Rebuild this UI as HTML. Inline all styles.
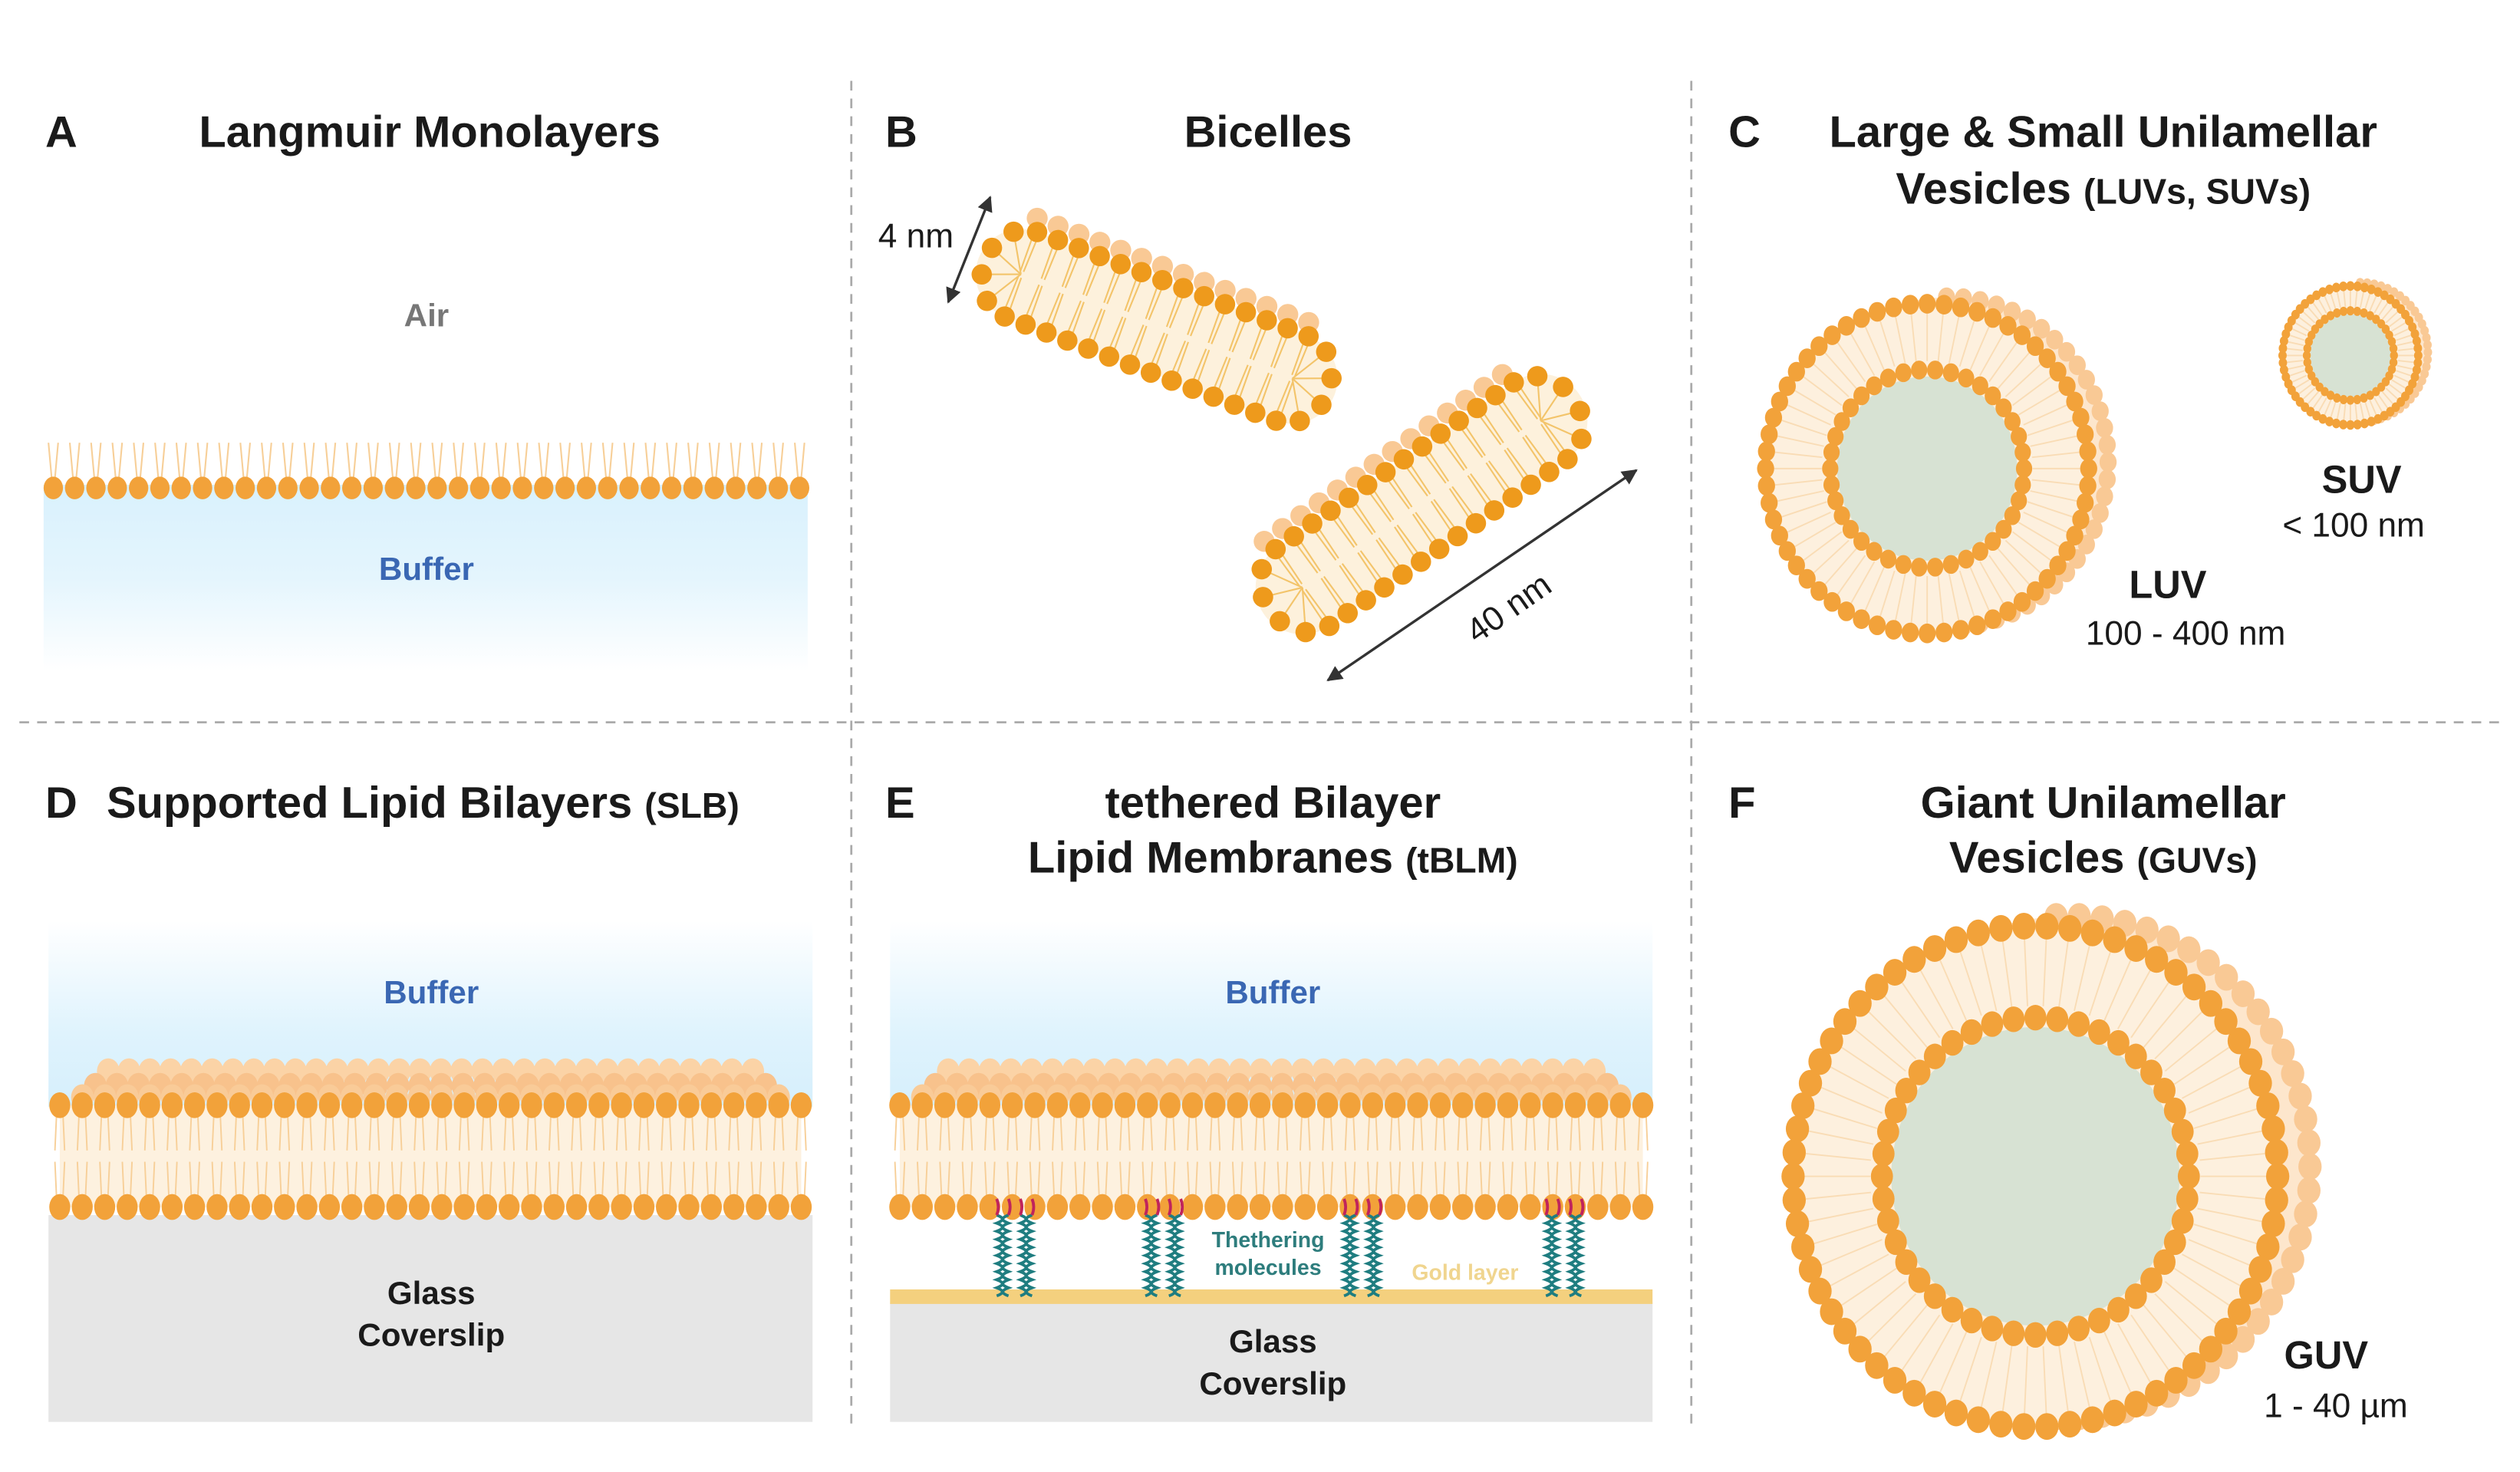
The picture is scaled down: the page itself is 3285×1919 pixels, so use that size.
<!DOCTYPE html>
<html><head><meta charset="utf-8"><style>
html,body{margin:0;padding:0;background:#fff}
svg{display:block}
text{font-family:"Liberation Sans",sans-serif}
</style></head><body>
<svg id="s" width="3285" height="1919" viewBox="0 0 1560 911" preserveAspectRatio="none" xmlns="http://www.w3.org/2000/svg">
<defs>
<linearGradient id="bufA" x1="0" y1="0" x2="0" y2="1"><stop offset="0" stop-color="#d9f1fd"/><stop offset="0.5" stop-color="#e4f5fd"/><stop offset="1" stop-color="#ffffff"/></linearGradient>
<linearGradient id="bufD" x1="0" y1="0" x2="0" y2="1"><stop offset="0" stop-color="#ffffff"/><stop offset="0.6" stop-color="#dff3fd"/><stop offset="1" stop-color="#d6effc"/></linearGradient>
<marker id="ah" viewBox="0 0 10 10" refX="9" refY="5" markerWidth="6" markerHeight="6" orient="auto-start-reverse"><path d="M0,0 L10,5 L0,10 z" fill="#333"/></marker>
</defs>
<rect width="1560" height="911" fill="#fff"/>
<g stroke="#aaa" stroke-width="1.3" stroke-dasharray="6,5" fill="none">
<line x1="527" y1="50" x2="527" y2="882"/>
<line x1="1047" y1="50" x2="1047" y2="882"/>
<line x1="12" y1="447" x2="1548" y2="447"/>
</g>
<rect x="27" y="300" width="473" height="115" fill="url(#bufA)"/>
<rect x="30" y="570" width="473" height="115" fill="url(#bufD)"/>
<rect x="30" y="752" width="473" height="128" fill="#e6e6e6"/>
<rect x="551" y="570" width="472" height="115" fill="url(#bufD)"/>
<rect x="551" y="806" width="472" height="74" fill="#e6e6e6"/>
<rect x="551" y="798" width="472" height="9" fill="#f4d07e"/>
<g id="dyn"></g>
<line x1="613" y1="122" x2="587" y2="187" stroke="#333" stroke-width="1.6" marker-start="url(#ah)" marker-end="url(#ah)"/>
<line x1="822" y1="421" x2="1013" y2="291" stroke="#333" stroke-width="1.6" marker-start="url(#ah)" marker-end="url(#ah)"/>
<g fill="#1a1a1a" font-weight="bold" font-size="27.5">
<text x="28" y="91">A</text>
<text x="266" y="91" text-anchor="middle">Langmuir Monolayers</text>
<text x="548" y="91">B</text>
<text x="785" y="91" text-anchor="middle">Bicelles</text>
<text x="1070" y="91">C</text>
<text x="1302" y="91" text-anchor="middle">Large &amp; Small Unilamellar</text>
<text x="1302" y="126" text-anchor="middle">Vesicles <tspan font-size="22">(LUVs, SUVs)</tspan></text>
<text x="28" y="506">D</text>
<text x="66" y="506">Supported Lipid Bilayers <tspan font-size="22">(SLB)</tspan></text>
<text x="548" y="506">E</text>
<text x="788" y="506" text-anchor="middle">tethered Bilayer</text>
<text x="788" y="540" text-anchor="middle">Lipid Membranes <tspan font-size="22">(tBLM)</tspan></text>
<text x="1070" y="506">F</text>
<text x="1302" y="506" text-anchor="middle">Giant Unilamellar</text>
<text x="1302" y="540" text-anchor="middle">Vesicles <tspan font-size="22">(GUVs)</tspan></text>
<text x="1342" y="370" text-anchor="middle" font-size="24">LUV</text>
<text x="1462" y="305" text-anchor="middle" font-size="24">SUV</text>
<text x="1440" y="847" text-anchor="middle" font-size="24">GUV</text>
<text x="267" y="807" text-anchor="middle" font-size="20">Glass</text>
<text x="267" y="833" text-anchor="middle" font-size="20">Coverslip</text>
<text x="788" y="837" text-anchor="middle" font-size="20">Glass</text>
<text x="788" y="863" text-anchor="middle" font-size="20">Coverslip</text>
</g>
<g fill="#1a1a1a" font-size="21">
<text x="567" y="153" text-anchor="middle">4 nm</text>
<text x="1353" y="399" text-anchor="middle">100 - 400 nm</text>
<text x="1457" y="332" text-anchor="middle">&lt; 100 nm</text>
<text x="1446" y="877" text-anchor="middle">1 - 40  µm</text>
<text transform="translate(938,382) rotate(-35)" text-anchor="middle">40 nm</text>
</g>
<text x="264" y="202" text-anchor="middle" font-size="20" font-weight="bold" fill="#777">Air</text>
<g fill="#3a67b3" font-weight="bold" font-size="20" text-anchor="middle">
<text x="264" y="359">Buffer</text>
<text x="267" y="621">Buffer</text>
<text x="788" y="621">Buffer</text>
</g>
<g fill="#2e7d7d" font-weight="bold" font-size="13.5" text-anchor="middle">
<text x="785" y="772">Thethering</text>
<text x="785" y="789">molecules</text>
</g>
<text x="907" y="792" text-anchor="middle" font-size="13.5" font-weight="bold" fill="#f0d58f">Gold layer</text>
</svg>
<script>
var NS="http://www.w3.org/2000/svg",G=document.getElementById("dyn");
var OR="#f2a23a",LT="#f9c995",TL="#f7cf98";
function el(t,a,p){var e=document.createElementNS(NS,t);for(var k in a)e.setAttribute(k,a[k]);(p||G).appendChild(e);return e;}
(function(){var n=36,x0=33,x1=495;for(var i=0;i<n;i++){var x=x0+i*(x1-x0)/(n-1);
el("path",{d:"M"+(x-3)+",274 L"+(x-1)+",296 M"+(x+3)+",274 L"+(x+1)+",296",stroke:TL,"stroke-width":1,fill:"none"});
el("ellipse",{cx:x,cy:302,rx:6,ry:7,fill:OR});}})();
function bilayer(xa,xb,tethers){var n=34;
el("rect",{x:xa,y:684,width:xb-xa,height:63,fill:"#fdf1df"});
for(var r=0;r<3;r++){var yy=[663,672,679][r],ins=[30,22,14][r];var m=n-2;
 for(var i=0;i<m;i++){var x=xa+ins+i*(xb-xa-2*ins)/(m-1);el("ellipse",{cx:x,cy:yy,rx:7,ry:8,fill:["#fbd3a6","#f8c28c","#f9cb98"][r]});}}
for(var i=0;i<n;i++){var x=xa+i*(xb-xa)/(n-1);
 el("path",{d:"M"+(x-2)+",690 L"+(x-3)+",712 M"+(x+2)+",690 L"+(x+3)+",712 M"+(x-3)+",719 L"+(x-2)+",741 M"+(x+3)+",719 L"+(x+2)+",741",stroke:TL,"stroke-width":0.9,fill:"none"});
 el("ellipse",{cx:x,cy:684,rx:6.5,ry:8,fill:OR});el("ellipse",{cx:x,cy:747,rx:6.5,ry:8,fill:OR});}
(tethers||[]).forEach(function(tx){for(var k=0;k<4;k++){var x=tx-11+k*7.3;var d="M"+x+",752";for(var y=752;y<798;y+=5){d+=" q"+((k%2?-1:1)*7)+",2.5 0,5";}
 el("path",{d:d,stroke:"#1f7d80","stroke-width":1.8,fill:"none"});
 el("path",{d:"M"+x+",742 q2,5 0,10",stroke:"#c0245c","stroke-width":1.8,fill:"none"});}});}
bilayer(37,496);bilayer(557,1017,[628,720,843,968]);
function bicelle(cx,cy,ang,L,T,n){var g=el("g",{transform:"translate("+cx+","+cy+") rotate("+ang+")"});var h=L/2;
 el("rect",{x:-h-T/2,y:-T/2,width:L+T,height:T,rx:T/2,fill:"#fdf1dc"},g);
 for(var i=0;i<n;i++){var x=-h+i*L/(n-1);el("circle",{cx:x-3,cy:-T/2-8,r:6.5,fill:LT},g);}
 for(var i=0;i<n;i++){var x=-h+i*L/(n-1);
  el("path",{d:"M"+(x-1.5)+","+(-T/2+5)+" L"+(x-1)+",-2 M"+(x+1.5)+","+(-T/2+5)+" L"+(x+1)+",-2 M"+(x-1)+",2 L"+(x-1.5)+","+(T/2-5)+" M"+(x+1)+",2 L"+(x+1.5)+","+(T/2-5),stroke:"#f3c46a","stroke-width":1,fill:"none"},g);
  el("circle",{cx:x,cy:-T/2,r:6.3,fill:"#ee9a1c"},g);el("circle",{cx:x,cy:T/2,r:6.3,fill:"#ee9a1c"},g);}
 [-1,1].forEach(function(s){for(var a=-55;a<=55;a+=36.6){var r=a*Math.PI/180;var px=s*(h+T/2*Math.cos(r)*0.85),py=T/2*Math.sin(r);
  el("path",{d:"M"+px+","+py+" L"+(s*h)+",0",stroke:"#f3c46a","stroke-width":1,fill:"none"},g);
  el("circle",{cx:px,cy:py,r:6.3,fill:"#ee9a1c"},g);}});}
bicelle(716,202,21,180,56,14);
bicelle(880,312,-35,180,58,14);
function ves(cx,cy,rx,ry,ri,hr,n1,n2,off){
 var bx=cx+off[0],by=cy+off[1];
 el("ellipse",{cx:bx,cy:by,rx:rx,ry:ry,fill:"#fde6cc"});
 for(var i=0;i<n1;i++){var a=2*Math.PI*i/n1;var c=Math.cos(a);if(c<-0.1)continue;el("ellipse",{cx:bx+rx*c,cy:by+ry*Math.sin(a),rx:hr,ry:hr*1.15,fill:LT});}
 el("ellipse",{cx:cx,cy:cy,rx:rx,ry:ry,fill:"#fdf0de"});
 var d="";for(var i=0;i<n1;i++){var a=2*Math.PI*i/n1,c=Math.cos(a),s=Math.sin(a);
  d+="M"+(cx+(rx-hr)*c)+","+(cy+(ry-hr)*s)+" L"+(cx+(ri+hr)*c)+","+(cy+(ri*ry/rx+hr)*s);}
 el("path",{d:d,stroke:"#f9dcb5","stroke-width":0.9,fill:"none"});
 el("ellipse",{cx:cx,cy:cy,rx:ri-hr*0.8,ry:ri*ry/rx-hr*0.8,fill:"#d7e2d3"});
 for(var i=0;i<n1;i++){var a=2*Math.PI*i/n1;el("ellipse",{cx:cx+rx*Math.cos(a),cy:cy+ry*Math.sin(a),rx:hr,ry:hr*1.15,fill:OR});}
 for(var i=0;i<n2;i++){var a=2*Math.PI*i/n2;el("ellipse",{cx:cx+ri*Math.cos(a),cy:cy+ri*ry/rx*Math.sin(a),rx:hr*0.95,ry:hr*1.1,fill:OR});}}
ves(1193,290,100,102,60,5.3,60,38,[12,-4]);
ves(1455,220,42,43,27,2.6,60,40,[6,-2]);
ves(1260,728,150,155,95,7.2,66,44,[20,-6]);
</script>
</body></html>
